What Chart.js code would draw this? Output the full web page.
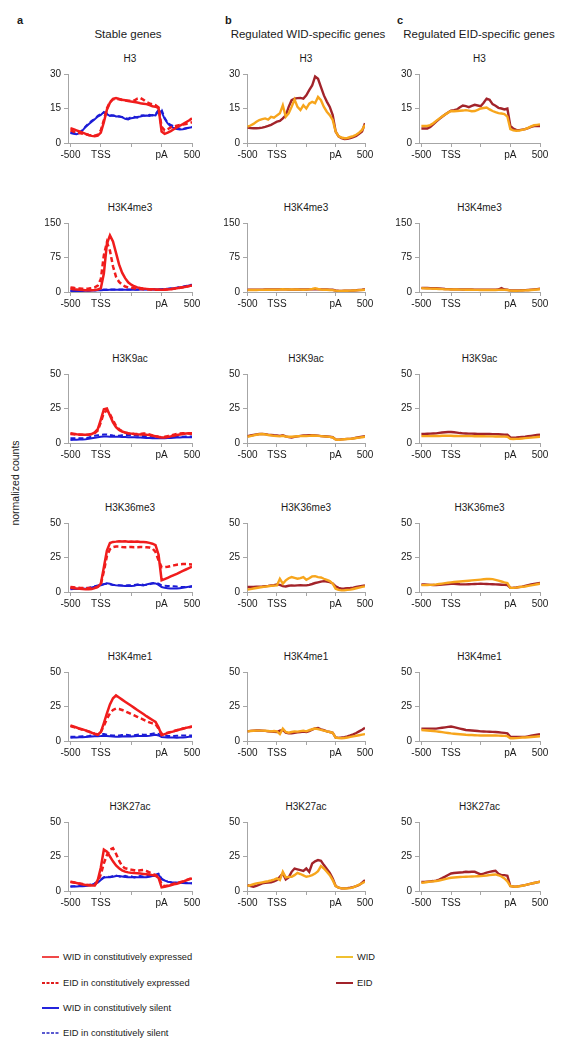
<!DOCTYPE html>
<html>
<head>
<meta charset="utf-8">
<script src="https://cdn.jsdelivr.net/npm/chart.js@4.4.1/dist/chart.umd.min.js"></script>
<style>
  body { margin: 0; background: #fff; font-family: "Liberation Sans", Arial, sans-serif; color: #1a1a1a; }
  #page { position: relative; width: 574px; height: 1050px; overflow: hidden; background: #fff; }
  .abs { position: absolute; white-space: nowrap; line-height: 1; }
  .letter { font-weight: bold; font-size: 11px; transform: translateY(-50%); }
  .head { font-size: 11.5px; transform: translate(-50%, -50%); }
  .mark { font-size: 10px; transform: translate(-50%, -50%); }
  .ylab { font-size: 10.5px; transform: translate(-50%, -50%) rotate(-90deg); }
  .key { position: absolute; font-size: 9.3px; display: flex; align-items: center; transform: translateY(-50%); white-space: nowrap; }
  .key svg { margin-right: 4px; }
  canvas { position: absolute; }
</style>
</head>
<body>
<div id="page"></div>
<script>
// x positions along the meta-gene (-500 .. TSS .. body .. pA .. 500)
const xGrid = [0,0.1,0.2,0.3,0.4,0.5,0.6,0.7,0.8,0.9,1,1.1,1.2,1.3,1.4,1.5,1.6,1.7,1.8,1.9,2,2.1,2.2,2.3,2.4,2.5,2.6,2.7,2.8,2.9,3,3.1,3.2,3.3,3.4,3.5,3.6,3.7,3.8,3.9,4];
const xTickValues = [0, 1, 2, 3, 4];
const xTickLabels = ['-500', 'TSS', '', 'pA', '500'];
const marks = ['H3', 'H3K4me3', 'H3K9ac', 'H3K36me3', 'H3K4me1', 'H3K27ac'];
const yMax = [30, 150, 50, 50, 50, 50];
const columnLetters = ['a', 'b', 'c'];
const columnTitles = ['Stable genes', 'Regulated WID-specific genes', 'Regulated EID-specific genes'];
const legendLeft = ['WID in constitutively expressed', 'EID in constitutively expressed', 'WID in constitutively silent', 'EID in constitutively silent'];
const legendRight = ['WID', 'EID'];

// ---- a: stable genes ----
const aH3WidExp = [6.4,6.0,5.5,5.0,4.5,4.0,3.5,3.1,2.9,3.2,4.5,9.0,14.5,17.5,19.2,19.5,19.2,18.8,18.6,18.3,18.0,17.8,17.6,17.3,17.1,16.9,16.5,16.0,15.8,15.2,5.0,4.0,4.5,5.2,6.0,6.8,7.5,8.2,9.0,9.8,10.7];
const aH3EidExp = [5.5,5.0,4.6,4.3,4.0,3.8,3.5,3.3,3.2,3.6,5.5,10.0,15.0,17.8,19.0,19.3,19.0,18.7,18.5,18.4,18.3,18.5,19.3,19.6,18.8,17.8,17.2,16.8,16.5,15.5,7.0,5.5,6.0,6.8,7.2,7.5,7.8,8.0,8.3,8.6,9.0];
const aH3WidSil = [4.3,4.0,3.8,4.3,5.5,7.0,8.2,9.3,10.3,11.5,12.2,13.5,12.5,11.8,12.0,11.5,11.6,11.2,10.5,10.2,10.8,11.0,11.3,11.5,11.8,12.0,11.8,12.2,12.0,14.0,13.5,10.5,8.5,7.2,6.5,6.1,5.9,6.0,6.3,6.6,6.9];
const aH3EidSil = [4.5,4.6,5.0,4.6,5.6,7.2,8.5,9.6,10.5,11.8,12.6,13.2,12.8,12.2,11.8,11.9,11.5,11.3,10.9,10.6,11.2,11.4,11.0,11.9,12.1,11.7,12.3,12.0,12.5,14.5,14.5,11.0,8.8,7.8,7.3,6.8,6.2,6.1,6.4,6.7,7.0];

const aK4me3WidExp = [7,6,5.5,5,4.5,4,3.6,3.8,4.5,5.5,8,40,105,123,110,85,60,42,30,21,16,12.5,10,8.5,7.5,6.8,6.2,5.8,5.4,5.0,4.8,5.0,5.5,6.2,7.0,8.0,9.0,10.2,11.5,12.8,14];
const aK4me3EidExp = [10,9,8,7.5,7,7,7.5,8.5,10,14,28,80,108,90,56,33,22,16,12,10,9,8,7.2,6.6,6.2,5.8,5.5,5.2,5.0,4.8,4.8,5.2,5.8,6.5,7.3,8.2,9.2,10.3,11.5,12.8,14];
const aK4me3WidSil = [2,2,2.1,2.2,2.3,2.5,2.7,3,3.3,3.7,4,4.3,4.6,4.9,5,5.1,5.1,5,5,5,5,5,5.1,5.2,5.3,5.4,5.5,5.6,5.6,5.7,5.8,6.2,6.8,7.5,8.2,9,10,11,12.5,14,15];
const aK4me3EidSil = [2.5,2.6,2.7,2.8,3,3.2,3.4,3.7,4,4.4,4.8,5.2,5.5,5.6,5.6,5.5,5.4,5.3,5.3,5.4,5.5,5.6,5.6,5.7,5.8,5.9,6,6,6.1,6.1,6.2,6.6,7.2,7.8,8.5,9.5,10.5,11.5,13,14.5,16];

const aK9acWidExp = [7,6.7,6.4,6.2,6.0,6.0,6.1,6.5,7.7,10,17,24.5,25,20,15,11.5,9.5,8.3,7.6,7.1,6.8,6.5,6.3,6.2,6.1,6.0,5.7,5.3,4.9,4.4,4.0,4.0,4.3,4.8,5.3,5.8,6.2,6.5,6.8,7.0,7.0];
const aK9acEidExp = [6.5,6.3,6.1,6.0,5.9,5.9,6.0,6.4,7.2,9,15,22,23.5,21,16.5,12.5,10,8.5,7.5,7,6.8,6.6,6.5,6.6,6.8,6.8,6.2,5.5,5.0,4.5,4.2,4.5,5,5.5,6,6.5,6.8,7,7,6.8,6.5];
const aK9acWidSil = [2.2,2.3,2.4,2.5,2.6,2.7,3.0,3.4,3.8,4.2,4.6,4.7,4.7,4.6,4.6,4.6,4.5,4.4,4.3,4.2,4.2,4.1,4.0,3.9,3.8,3.7,3.6,3.5,3.4,3.4,3.4,3.5,3.6,3.7,3.8,3.9,4.0,4.1,4.1,4.2,4.2];
const aK9acEidSil = [3.4,3.4,3.5,3.5,3.5,3.6,4.0,4.6,5.2,5.6,5.8,6.1,6.2,5.8,5.4,5.2,5.3,5.6,5.8,5.9,5.8,5.6,5.3,5.2,5.0,5.0,4.7,4.4,4.1,3.9,3.8,3.9,4.1,4.2,4.4,4.4,4.5,4.6,4.7,4.8,4.8];

const aK36WidExp = [3,2.8,2.6,2.4,2.2,2.0,2.0,2.2,2.8,3.6,6,18,30,35.5,36.3,36.5,36.8,36.6,36.8,36.5,36.6,36.4,36.6,36.3,36.2,36,35.6,35,34,27,8.5,9.3,10.3,11.3,12.3,13.2,14.3,15.3,16.3,17.3,18.3];
const aK36EidExp = [3.6,3.4,3.2,3.0,2.9,2.9,2.9,3.0,3.2,3.8,5.5,15,26,31,32.5,33,33,32.6,32.4,32.5,32.6,32.4,32.5,32.6,32.5,32.4,32.2,31.5,29,23,18,18,18.3,18.8,19.3,19.8,20,20.2,20.2,20.1,20];
const aK36WidSil = [2,2.1,2.2,2.3,2.3,2.4,2.7,3.2,3.8,4.4,4.8,5.6,6.4,6.0,5.2,4.8,4.7,4.5,4.3,4.5,4.3,4.6,5.2,5.0,4.7,5.5,6.0,6.4,6.2,5.2,3.6,3.0,2.8,2.6,2.6,2.6,2.8,3.0,3.4,3.9,4.3];
const aK36EidSil = [2.5,2.5,2.6,2.6,2.7,2.8,3.1,3.6,4.2,4.8,5.2,5.7,6.0,5.6,5.1,5.0,4.9,4.8,4.7,4.9,4.8,5.0,5.4,5.5,5.2,5.0,5.6,6.3,6.8,6.0,4.8,4.5,4.4,4.3,4.1,3.9,3.7,3.6,3.6,3.7,3.8];

const aK4me1WidExp = [11.2,10.5,9.8,9.0,8.4,7.7,7.0,6.0,5.2,4.5,6.5,13,20,26.5,31,33,31.5,30,28.5,27,25.5,24,22.5,21,19.5,18,16.6,15.2,13.8,10,4.2,5.0,5.7,6.4,7.0,7.7,8.3,8.9,9.5,10.0,10.5];
const aK4me1EidExp = [10.8,10.2,9.5,8.8,8.2,7.5,6.8,6.0,5.3,4.8,6.5,11,16,20,22.5,23.5,23.2,22.5,21.5,20.5,19.5,18.5,17.5,16.5,15.5,14.5,13.5,12.8,12.2,9,5.0,5.4,6.0,6.6,7.2,7.8,8.4,9.0,9.5,10.0,10.3];
const aK4me1WidSil = [2.4,2.5,2.6,2.7,2.8,2.9,3.0,3.2,3.4,3.5,3.6,3.8,3.6,3.4,3.2,3.0,3.0,3.2,3.4,3.3,3.2,3.4,3.6,3.7,3.6,3.6,3.8,4.2,4.5,4.0,2.9,2.7,2.6,2.5,2.5,2.4,2.5,2.6,2.8,3.0,3.1];
const aK4me1EidSil = [3.0,3.1,3.2,3.3,3.4,3.4,3.6,4.0,4.5,5.0,5.3,5.0,4.6,4.2,4.0,3.9,4.0,4.3,4.5,4.3,4.0,4.2,4.6,4.8,4.6,4.5,4.8,5.3,5.7,5.2,4.0,3.8,3.6,3.6,3.7,3.8,3.9,4.0,4.0,4.0,4.0];

const aK27WidExp = [6.8,6.3,5.8,5.3,4.8,4.3,4.1,3.9,3.9,8,17,30,28.5,25,21.5,18.5,16.5,15,14,13.5,13.2,13.0,12.8,12.6,12.4,12.2,12.0,11.5,11.0,9.5,2.6,3.0,3.6,4.2,4.8,5.3,6.0,6.8,7.6,8.4,9.2];
const aK27EidExp = [6.5,6.2,5.8,5.4,5.0,4.6,4.4,4.2,4.3,7,12,20,26,30,31,27,22,18,16.5,16,15.5,15,14.5,15,15.2,14.5,13.5,12.5,11.5,10.5,5,3.5,4,4.6,5.2,5.8,6.4,7.0,7.8,8.6,9.4];
const aK27WidSil = [3.1,3.2,3.3,3.4,3.5,3.6,4.0,4.6,5.3,6.0,8.0,9.7,9.9,10.0,10.3,10.9,10.8,10.5,10.2,10.0,10.0,10.1,10.0,10.0,10.0,10.0,10.4,10.8,10.9,12.0,8.5,7.6,6.8,6.4,6.2,6.0,5.9,5.8,5.7,5.6,5.6];
const aK27EidSil = [3.4,3.4,3.5,3.6,3.8,4.0,4.3,4.9,5.6,6.6,8.4,10.0,10.5,10.2,10.8,11.2,10.6,9.8,11.0,10.4,10.6,9.8,10.4,10.9,10.3,10.6,11.2,11.6,11.8,12.5,9.0,7.5,6.8,6.4,6.1,6.0,5.9,5.8,5.8,5.7,5.6];

// ---- b: regulated WID-specific genes ----
const bH3Wid = [7.1,7.6,8.3,9.2,10.0,10.4,10.7,10.2,11.4,11.0,12.0,12.9,16.4,11.4,12.9,15.7,18.9,15.7,14.3,16.4,15.0,17.1,17.9,17.3,20.0,18.6,15.7,13.6,12.1,10.0,5.0,2.9,2.4,2.1,2.2,2.6,3.0,3.6,4.5,5.7,7.9];
const bH3Eid = [6.7,6.5,6.4,6.4,6.5,6.7,7.0,7.4,7.9,8.6,9.3,9.6,10.7,12.0,15.7,18.6,19.3,19.5,19.6,19.3,20.7,23.0,25.0,28.9,27.9,24.3,20.7,18.0,15.7,12.1,5.0,2.9,2.1,1.7,1.8,2.1,2.6,3.1,4.0,5.0,8.6];
const bK4me3Wid = [4,4.2,4.4,4.5,4.6,4.7,4.8,4.9,5,5,5.2,5.5,6,5.5,5.3,5.5,5.6,5.4,5.2,5.0,5.2,5.6,6.5,8,6.5,5.5,5,4.8,4.5,4,3,2.5,2.5,2.6,2.8,3,3.3,3.6,4,4.5,5];
const bK4me3Eid = [5,5,5,5.1,5.2,5.2,5.3,5.3,5.4,5.5,5.5,5.8,6,5.6,5.4,5.2,5.3,5.5,5.6,5.5,5.5,5.6,5.8,6,5.8,5.6,5.5,5.4,5.2,4.8,3.2,2.6,2.5,2.6,2.8,3,3.4,3.8,4.4,5,6];
const bK9acWid = [4.5,5.0,5.5,6.0,6.3,6.5,6.2,5.8,5.5,5.2,5.0,4.8,5.2,4.6,4.5,4.5,4.7,4.9,5.0,5.1,5.0,5.2,5.4,5.3,5.2,5.0,4.8,4.6,4.4,4.0,2.5,2.4,2.5,2.7,2.9,3.0,3.3,3.6,3.9,4.2,4.5];
const bK9acEid = [5.0,5.4,5.8,6.2,6.5,6.6,6.4,6.0,5.8,5.6,5.5,5.2,5.6,4.8,4.3,4.0,4.4,4.8,5.2,5.4,5.5,5.6,5.7,5.5,5.3,5.0,4.9,4.7,4.5,4.2,2.6,2.4,2.6,2.8,3.0,3.0,3.4,3.8,4.2,4.6,5.0];
const bK36Wid = [1.7,2.1,2.5,2.9,3.3,3.6,3.9,4.2,4.4,4.6,4.8,9.6,6.0,8.4,10.0,10.8,10.2,9.6,10.0,10.8,8.9,10.0,11.3,11.5,10.8,10.5,9.6,8.8,7.9,6.0,2.4,1.5,1.2,1.3,1.5,1.7,2.2,2.7,3.2,3.7,4.1];
const bK36Eid = [3.6,3.6,3.7,3.8,3.9,4.0,4.2,4.4,4.7,5.0,5.5,5.2,4.3,4.0,4.5,4.8,4.6,4.8,4.9,4.8,4.8,5.2,5.8,6.5,7.0,7.5,7.9,7.6,7.2,6.2,4.1,3.0,2.4,2.5,2.7,2.9,3.2,3.6,4.0,4.4,4.8];
const bK4me1Wid = [7.0,7.2,7.4,7.5,7.5,7.5,7.4,7.2,7.0,7.2,7.0,5.0,9.0,6.5,6.0,6.5,7.0,6.8,7.2,7.5,7.0,7.8,8.5,9.0,8.6,8.0,7.5,7.0,6.5,6.0,2.5,2.2,2.0,2.2,2.5,3.0,3.4,3.8,4.2,4.6,5.0];
const bK4me1Eid = [7.0,7.3,7.5,7.6,7.6,7.5,7.3,7.0,6.8,6.6,6.5,7.5,8.0,6.0,5.5,5.5,6.0,6.3,6.5,6.8,6.5,7.2,8.2,9.2,9.5,8.5,7.8,7.0,6.5,6.0,2.5,2.3,2.5,2.8,3.3,4.0,4.8,5.8,7.0,8.2,9.5];
const bK27Wid = [3.6,4.3,4.9,5.5,5.9,6.3,6.7,7.1,7.6,8.3,9.1,7.9,13.9,9.9,10.2,10.3,11.5,13.2,12.3,11.3,10.3,10.8,11.5,12.6,14.4,18.0,16.3,14.0,11.5,7.9,3.6,2.4,1.9,1.8,1.9,2.1,2.6,3.6,4.6,5.6,6.7];
const bK27Eid = [4.3,3.6,3.1,3.8,4.6,5.5,5.9,6.2,6.3,7.0,7.9,10.3,12.7,8.4,9.9,13.9,16.3,15.7,15.1,14.5,16.3,13.9,19.9,21.5,22.4,21.9,18.8,16.0,13.2,9.1,3.6,2.4,1.9,1.9,2.1,2.4,2.8,3.5,4.3,6.0,7.9];

// ---- c: regulated EID-specific genes ----
const cH3Wid = [7.4,7.4,7.4,7.8,8.6,9.6,10.6,11.5,12.4,13.2,13.9,13.8,13.9,14.0,14.1,14.3,14.1,13.8,13.9,14.4,15.0,15.2,15.4,14.6,13.9,13.4,13.0,12.8,12.6,11.5,6.0,5.5,5.3,5.4,5.7,6.0,6.6,7.2,7.7,7.9,8.1];
const cH3Eid = [6.3,6.3,6.3,7.0,8.1,9.3,10.4,11.4,12.4,13.3,14.1,14.3,14.6,15.5,16.3,16.0,15.6,16.1,16.6,16.3,16.0,17.5,19.3,18.8,16.9,16.2,15.3,15.0,14.6,15.0,7.4,6.2,5.7,5.6,5.8,6.0,6.5,7.0,7.4,7.4,7.4];
const cK4me3Wid = [8,7.8,7.6,7.4,7.2,7,6.6,6.2,5.8,5.6,5.5,5.4,5.3,5.2,5.1,5,4.9,4.8,4.7,4.6,4.5,4.5,4.5,4.5,4.5,4.5,4.6,4.8,4.6,4.2,3,2.8,2.8,3,3.2,3.5,3.9,4.4,5,5.5,6];
const cK4me3Eid = [9,8.8,8.6,8.4,8.2,8,7.5,7,6.5,6.2,6,5.8,5.7,5.6,5.5,5.5,5.4,5.3,5.2,5.1,5,5,5,5,5.1,5.2,5.5,8.5,5.4,4.8,3.5,3.3,3.4,3.6,3.8,4,4.5,5,5.6,6.3,7];
const cK9acWid = [5,5,5,5,5.1,5.1,5.1,5.2,5.2,5.2,5.2,5.1,5.1,5,5,5,5,5,4.9,4.9,4.9,4.9,4.8,4.8,4.8,4.7,4.7,4.6,4.6,4.5,3,2.9,3,3.1,3.3,3.5,3.7,3.9,4.1,4.3,4.5];
const cK9acEid = [6.5,6.6,6.7,6.8,6.9,7,7.3,7.6,7.8,8,8,7.8,7.5,7.2,7,6.9,6.8,6.8,6.7,6.6,6.5,6.5,6.5,6.5,6.4,6.4,6.3,6.2,6.1,6,4,3.9,4,4.2,4.4,4.6,4.9,5.2,5.5,5.8,6];
const cK36Wid = [5,5,5.1,5.2,5.3,5.5,5.8,6.1,6.4,6.7,7,7.2,7.4,7.6,7.8,8,8.2,8.4,8.6,8.8,9,9.2,9.4,9.5,9.3,8.8,8.2,7.6,7,6.5,3,3,3.2,3.5,3.8,4,4.4,4.8,5.2,5.6,6];
const cK36Eid = [5.5,5.4,5.3,5.2,5.1,5,5.2,5.4,5.6,5.8,6,5.9,5.8,5.6,5.5,5.5,5.6,5.7,5.8,5.9,6,5.9,5.8,5.7,5.6,5.5,5.4,5.3,5.2,5,3,3.1,3.3,3.6,3.9,4.5,5,5.4,5.8,6.2,6.5];
const cK4me1Wid = [8,7.8,7.6,7.4,7.2,7,6.7,6.4,6.1,5.8,5.5,5.3,5.1,4.9,4.7,4.5,4.4,4.3,4.2,4.1,4,4,4,4,4,4,3.9,3.8,3.7,3.5,2,2,2.1,2.3,2.5,2.5,2.7,2.9,3.1,3.3,3.5];
const cK4me1Eid = [9,9,9,9,9,9,9.3,9.6,9.9,10.2,10.5,10,9.5,9,8.5,8,7.8,7.6,7.4,7.2,7,6.9,6.8,6.7,6.6,6.5,6.3,6.1,5.9,5.5,3,2.9,2.9,3,3,3,3.4,3.8,4.2,4.6,5];
const cK27Wid = [6.0,6.2,6.5,6.8,7.0,7.2,7.6,8.1,8.6,9.1,9.6,9.8,10.0,10.1,10.2,10.3,10.4,10.5,10.6,10.7,10.8,11.0,11.2,11.5,11.8,12.0,11.4,10.5,9.1,7.0,3.6,3.3,3.1,3.4,3.8,4.3,4.8,5.3,5.8,6.3,6.7];
const cK27Eid = [6.5,6.6,6.8,7.0,7.2,7.5,8.3,9.3,10.4,11.6,12.7,13.0,13.2,13.4,13.6,13.9,13.8,13.9,13.9,13.0,12.0,12.6,13.3,13.9,14.3,14.7,12.5,11.5,11.5,11.0,3.6,3.3,3.2,3.5,3.9,4.3,4.8,5.3,5.8,6.3,6.7];

// which series go in which panel, row by row
const stableSeries = [
  [aH3WidExp, aH3EidExp, aH3WidSil, aH3EidSil],
  [aK4me3WidExp, aK4me3EidExp, aK4me3WidSil, aK4me3EidSil],
  [aK9acWidExp, aK9acEidExp, aK9acWidSil, aK9acEidSil],
  [aK36WidExp, aK36EidExp, aK36WidSil, aK36EidSil],
  [aK4me1WidExp, aK4me1EidExp, aK4me1WidSil, aK4me1EidSil],
  [aK27WidExp, aK27EidExp, aK27WidSil, aK27EidSil]
];
const widSpecificSeries = [
  [bH3Wid, bH3Eid], [bK4me3Wid, bK4me3Eid], [bK9acWid, bK9acEid],
  [bK36Wid, bK36Eid], [bK4me1Wid, bK4me1Eid], [bK27Wid, bK27Eid]
];
const eidSpecificSeries = [
  [cH3Wid, cH3Eid], [cK4me3Wid, cK4me3Eid], [cK9acWid, cK9acEid],
  [cK36Wid, cK36Eid], [cK4me1Wid, cK4me1Eid], [cK27Wid, cK27Eid]
];

// line styles
const RED = '#f01c1c', BLUE = '#1c1cd6', ORANGE = '#f7a51c', DARKRED = '#a2232a';
const stableStyles = [
  { color: RED, dash: [], width: 2.5 },
  { color: RED, dash: [5, 3], width: 2.5 },
  { color: BLUE, dash: [], width: 2 },
  { color: BLUE, dash: [5, 3], width: 2 }
];
const regulatedStyles = [
  { color: ORANGE, dash: [], width: 2.4 },
  { color: DARKRED, dash: [], width: 2.4 }
];

// layout (px)
const colLeft = [68, 247, 419];
const colWidth = [124, 118, 121];
const colXMin = [-0.08, -0.02, -0.08];
const rowTop = [73, 222, 373, 522, 671, 821];
const plotH = 70, yAxisW = 38, xAxisH = 18, padTop = 8, padRight = 14;

Chart.defaults.font.family = '"Liberation Sans", Arial, sans-serif';
Chart.defaults.color = '#1a1a1a';

const page = document.getElementById('page');

function addText(cls, text, x, y) {
  const d = document.createElement('div');
  d.className = 'abs ' + cls;
  d.textContent = text;
  d.style.left = x + 'px';
  d.style.top = y + 'px';
  page.appendChild(d);
  return d;
}

function drawPanel(col, row, seriesList, styles) {
  const canvas = document.createElement('canvas');
  const w = yAxisW + colWidth[col] + padRight;
  const h = padTop + plotH + xAxisH;
  canvas.width = w;
  canvas.height = h;
  canvas.style.width = w + 'px';
  canvas.style.height = h + 'px';
  canvas.style.left = (colLeft[col] - yAxisW) + 'px';
  canvas.style.top = (rowTop[row] - padTop) + 'px';
  page.appendChild(canvas);

  const axisGrid = { drawOnChartArea: false, drawTicks: true, tickLength: 4, color: '#a6a6a6', lineWidth: 1 };
  const axisBorder = { display: true, color: '#a6a6a6', width: 1 };

  new Chart(canvas, {
    type: 'line',
    data: {
      datasets: seriesList.map((values, i) => ({
        data: values.map((v, j) => ({ x: xGrid[j], y: v })),
        borderColor: styles[i].color,
        borderWidth: styles[i].width,
        borderDash: styles[i].dash,
        pointRadius: 0,
        tension: 0,
        fill: false
      }))
    },
    options: {
      responsive: false,
      animation: false,
      layout: { padding: { top: padTop, right: padRight, left: 0, bottom: 0 } },
      plugins: { legend: { display: false }, tooltip: { enabled: false } },
      scales: {
        x: {
          type: 'linear',
          min: colXMin[col],
          max: 4,
          afterBuildTicks: s => { s.ticks = xTickValues.map(v => ({ value: v })); },
          afterFit: s => { s.height = xAxisH; },
          ticks: {
            autoSkip: false, maxRotation: 0, padding: 2,
            font: { size: 10 },
            callback: v => xTickLabels[xTickValues.indexOf(v)]
          },
          grid: axisGrid,
          border: axisBorder
        },
        y: {
          min: 0,
          max: yMax[row],
          afterBuildTicks: s => { s.ticks = [0, yMax[row] / 2, yMax[row]].map(v => ({ value: v })); },
          afterFit: s => { s.width = yAxisW; },
          ticks: { padding: 3, font: { size: 10 } },
          grid: axisGrid,
          border: axisBorder
        }
      }
    }
  });

  addText('mark', marks[row], colLeft[col] + colWidth[col] / 2, rowTop[row] - 14);
}

// headers
const letterX = [17, 225, 397];
const headX = [128, 308, 479];
columnLetters.forEach((l, i) => addText('letter', l, letterX[i], 20));
columnTitles.forEach((t, i) => addText('head', t, headX[i], 35));
addText('ylab', 'normalized counts', 15, 483);

for (let r = 0; r < 6; r++) {
  drawPanel(0, r, stableSeries[r], stableStyles);
  drawPanel(1, r, widSpecificSeries[r], regulatedStyles);
  drawPanel(2, r, eidSpecificSeries[r], regulatedStyles);
}

// legend
function addKey(text, x, y, color, dash) {
  const k = document.createElement('div');
  k.className = 'key';
  k.style.left = x + 'px';
  k.style.top = y + 'px';
  k.innerHTML = '<svg width="17" height="4"><line x1="0" y1="2" x2="17" y2="2" stroke="' + color +
    '" stroke-width="2"' + (dash ? ' stroke-dasharray="' + dash + '"' : '') + '/></svg>';
  const s = document.createElement('span');
  s.textContent = text;
  k.appendChild(s);
  page.appendChild(k);
}
const keyY = [957, 983, 1008, 1033];
addKey(legendLeft[0], 42, keyY[0], '#f04848', '');
addKey(legendLeft[1], 42, keyY[1], '#e01c1c', '3,1.5');
addKey(legendLeft[2], 42, keyY[2], '#2424dc', '');
addKey(legendLeft[3], 42, keyY[3], '#5a5ad0', '3,1.5');
addKey(legendRight[0], 336, keyY[0], '#f0c030', '');
addKey(legendRight[1], 336, keyY[1], DARKRED, '');
</script>
</body>
</html>
